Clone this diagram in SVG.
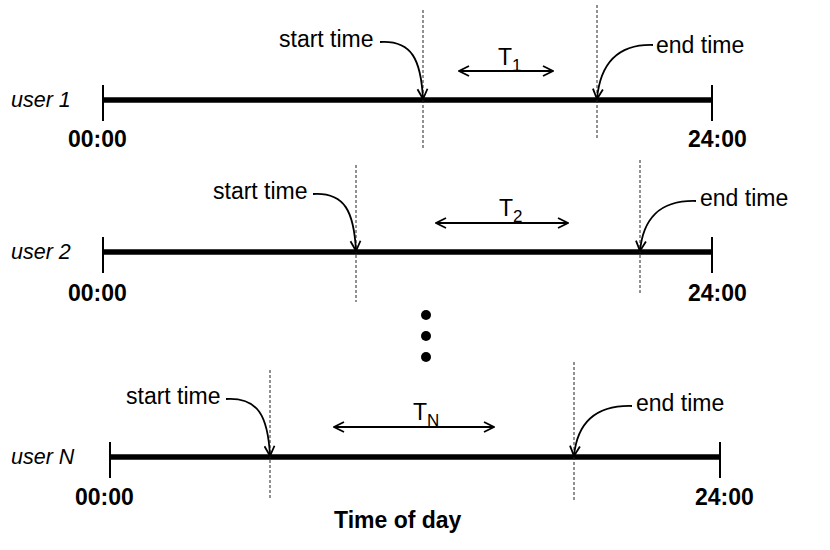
<svg xmlns="http://www.w3.org/2000/svg" width="830" height="550" viewBox="0 0 830 550">
<defs>
<style>
.axis{stroke:#000;stroke-width:5.5;fill:none}
.tick{stroke:#000;stroke-width:2;fill:none}
.dash{stroke:#222;stroke-width:1;stroke-dasharray:3,2;fill:none}
.call{stroke:#000;stroke-width:1.8;fill:none;marker-end:url(#chev)}
.dur{stroke:#000;stroke-width:1.8;fill:none;marker-start:url(#chevs);marker-end:url(#chev)}
.lbl{font-family:"Liberation Sans",Arial,sans-serif;font-size:23px;fill:#000}
.usr{font-family:"Liberation Sans",Arial,sans-serif;font-size:21.5px;font-style:italic;fill:#000}
.hr{font-family:"Liberation Sans",Arial,sans-serif;font-size:23px;font-weight:bold;fill:#000}
.sub{font-size:17px}
</style>
<marker id="chev" viewBox="0 0 12 12" refX="11" refY="6" markerWidth="12" markerHeight="12" markerUnits="userSpaceOnUse" orient="auto">
<path d="M1,1 L11,6 L1,11" fill="none" stroke="#000" stroke-width="1.8"/>
</marker>
<marker id="chevs" viewBox="0 0 12 12" refX="1" refY="6" markerWidth="12" markerHeight="12" markerUnits="userSpaceOnUse" orient="auto">
<path d="M11,1 L1,6 L11,11" fill="none" stroke="#000" stroke-width="1.8"/>
</marker>
</defs>
<rect width="830" height="550" fill="#fff"/>

<g id="row1">
<text class="usr" x="11" y="107">user 1</text>
<line class="axis" x1="103" y1="100" x2="712" y2="100"/>
<line class="tick" x1="103" y1="85" x2="103" y2="121"/>
<line class="tick" x1="712" y1="85" x2="712" y2="121"/>
<text class="hr" x="68" y="147">00:00</text>
<text class="hr" x="688" y="147">24:00</text>
<line class="dash" x1="423" y1="10" x2="423" y2="150"/>
<line class="dash" x1="597" y1="5" x2="597" y2="140"/>
<text class="lbl" x="279" y="47">start time</text>
<text class="lbl" x="656" y="53">end time</text>
<text class="lbl" x="498" y="65">T<tspan class="sub" dy="6">1</tspan></text>
</g>

<g id="row2">
<text class="usr" x="11" y="259">user 2</text>
<line class="axis" x1="103" y1="252" x2="712" y2="252"/>
<line class="tick" x1="103" y1="237" x2="103" y2="273"/>
<line class="tick" x1="712" y1="237" x2="712" y2="273"/>
<text class="hr" x="68" y="301">00:00</text>
<text class="hr" x="688" y="301">24:00</text>
<line class="dash" x1="356" y1="165" x2="356" y2="302"/>
<line class="dash" x1="640" y1="160" x2="640" y2="295"/>
<text class="lbl" x="213" y="199">start time</text>
<text class="lbl" x="700" y="206">end time</text>
<text class="lbl" x="499" y="216">T<tspan class="sub" dy="6">2</tspan></text>
</g>

<g id="dots">
<circle cx="426" cy="315" r="5"/>
<circle cx="426" cy="336" r="5"/>
<circle cx="426" cy="357" r="5"/>
</g>

<g id="rowN">
<text class="usr" x="11" y="464">user N</text>
<line class="axis" x1="110" y1="457" x2="720" y2="457"/>
<line class="tick" x1="110" y1="442" x2="110" y2="478"/>
<line class="tick" x1="720" y1="442" x2="720" y2="478"/>
<text class="hr" x="75" y="505">00:00</text>
<text class="hr" x="695" y="505">24:00</text>
<line class="dash" x1="270" y1="370" x2="270" y2="500"/>
<line class="dash" x1="574" y1="362" x2="574" y2="500"/>
<text class="lbl" x="126" y="404">start time</text>
<text class="lbl" x="636" y="411">end time</text>
<text class="lbl" x="413" y="420">T<tspan class="sub" dy="6">N</tspan></text>
</g>

<text id="xlabel" class="hr" x="334" y="528">Time of day</text>

<g id="connectors">
<path class="call" d="M380,42 C412,40 421,60 423,99"/>
<path class="call" d="M653,45 C615,44 600,66 597,99"/>
<path class="dur" d="M459,71 L553,71"/>
<path class="call" d="M313,194 C345,192 354,212 356,251"/>
<path class="call" d="M696,201 C658,200 643,220 640,251"/>
<path class="dur" d="M436,223 L568,223"/>
<path class="call" d="M226,399 C258,397 268,416 270,456"/>
<path class="call" d="M632,406 C594,405 577,425 574,456"/>
<path class="dur" d="M334,427 L494,427"/>
</g>
</svg>
